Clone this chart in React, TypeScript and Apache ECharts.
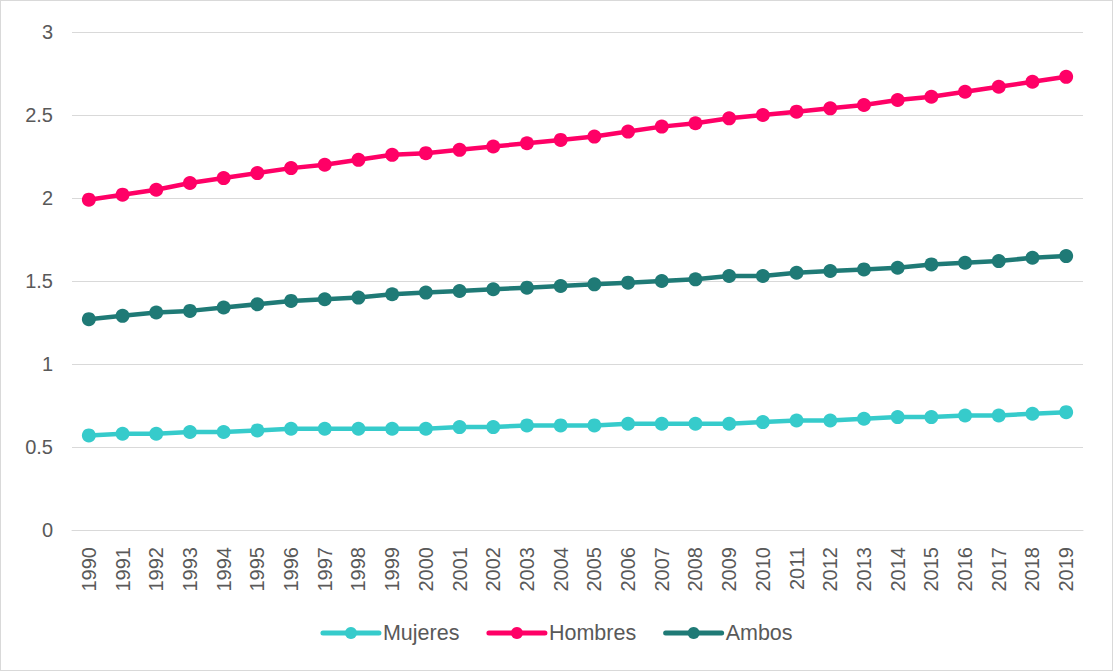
import React, { useEffect, useRef } from "react";
import * as echarts from "echarts";

const years = [
  "1990", "1991", "1992", "1993", "1994", "1995", "1996", "1997", "1998", "1999",
  "2000", "2001", "2002", "2003", "2004", "2005", "2006", "2007", "2008", "2009",
  "2010", "2011", "2012", "2013", "2014", "2015", "2016", "2017", "2018", "2019",
];

const mujeres = [
  0.57, 0.58, 0.58, 0.59, 0.59, 0.6, 0.61, 0.61, 0.61, 0.61,
  0.61, 0.62, 0.62, 0.63, 0.63, 0.63, 0.64, 0.64, 0.64, 0.64,
  0.65, 0.66, 0.66, 0.67, 0.68, 0.68, 0.69, 0.69, 0.7, 0.71,
];

const hombres = [
  1.99, 2.02, 2.05, 2.09, 2.12, 2.15, 2.18, 2.2, 2.23, 2.26,
  2.27, 2.29, 2.31, 2.33, 2.35, 2.37, 2.4, 2.43, 2.45, 2.48,
  2.5, 2.52, 2.54, 2.56, 2.59, 2.61, 2.64, 2.67, 2.7, 2.73,
];

const ambos = [
  1.27, 1.29, 1.31, 1.32, 1.34, 1.36, 1.38, 1.39, 1.4, 1.42,
  1.43, 1.44, 1.45, 1.46, 1.47, 1.48, 1.49, 1.5, 1.51, 1.53,
  1.53, 1.55, 1.56, 1.57, 1.58, 1.6, 1.61, 1.62, 1.64, 1.65,
];

const seriesDefs = [
  { name: "Mujeres", data: mujeres, color: "#36CBCB" },
  { name: "Hombres", data: hombres, color: "#FF0066" },
  { name: "Ambos", data: ambos, color: "#1F7A76" },
];

const FONT = "'Liberation Sans', Arial, sans-serif";
const TEXT_COLOR = "#595959";

export default function App() {
  const ref = useRef<HTMLDivElement>(null);

  useEffect(() => {
    if (!ref.current) return;
    const chart = echarts.init(ref.current, null, { renderer: "svg" });
    chart.setOption({
      animation: false,
      backgroundColor: "#ffffff",
      textStyle: { fontFamily: FONT },
      grid: { left: 71, right: 29, top: 31, bottom: 140, containLabel: false },
      legend: {
        bottom: 21,
        left: "center",
        itemWidth: 56,
        itemHeight: 15,
        itemGap: 27,
        lineStyle: { width: 5, cap: "round" },
        textStyle: { fontFamily: FONT, fontSize: 21.5, color: TEXT_COLOR, padding: [0, 0, 0, -1] },
        data: seriesDefs.map((s) => s.name),
      },
      xAxis: {
        type: "category",
        data: years,
        boundaryGap: true,
        axisLine: { show: true, lineStyle: { color: "#D9D9D9", width: 1 } },
        axisTick: { show: false },
        axisLabel: {
          rotate: 90,
          interval: 0,
          margin: 17,
          fontFamily: FONT,
          fontSize: 20,
          color: TEXT_COLOR,
        },
      },
      yAxis: {
        type: "value",
        min: 0,
        max: 3,
        interval: 0.5,
        axisLine: { show: false },
        axisTick: { show: false },
        splitLine: { show: true, lineStyle: { color: "#D9D9D9", width: 1 } },
        axisLabel: {
          margin: 19,
          fontFamily: FONT,
          fontSize: 20,
          color: TEXT_COLOR,
        },
      },
      series: seriesDefs.map((s) => ({
        name: s.name,
        type: "line",
        data: s.data,
        symbol: "circle",
        symbolSize: 14,
        itemStyle: { color: s.color },
        lineStyle: { color: s.color, width: 4.5 },
        z: 2,
      })),
    });
    return () => chart.dispose();
  }, []);

  return (
    <div
      ref={ref}
      style={{
        position: "fixed",
        left: 0,
        top: 0,
        width: 1113,
        height: 671,
        boxSizing: "border-box",
        border: "1px solid #D9D9D9",
        background: "#fff",
      }}
    />
  );
}
